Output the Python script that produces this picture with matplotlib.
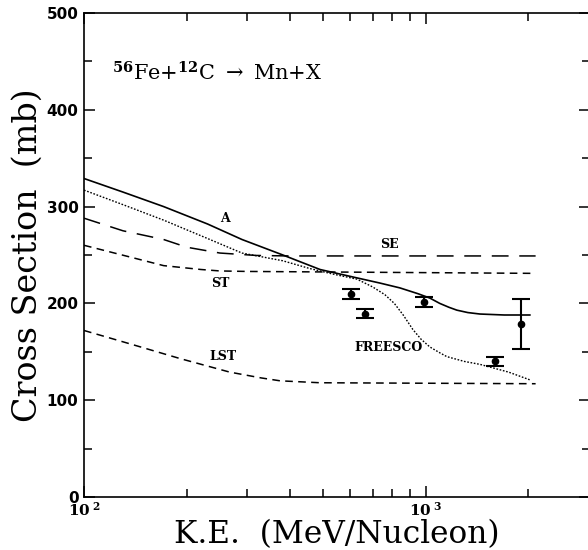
import matplotlib
matplotlib.use('Agg')
import matplotlib.pyplot as plt
from matplotlib.ticker import FixedLocator, FixedFormatter, NullFormatter, MultipleLocator, LogLocator

plt.rcParams['mathtext.fontset'] = 'dejavuserif'

# curve A (solid)
a_e = [100, 130, 171, 230, 290, 382, 491, 600, 735, 841, 950, 1029, 1100, 1170, 1235, 1330, 1443, 1700, 2020]
a_s = [329, 315, 300, 282, 266, 250, 235, 228, 221, 216, 210, 205.5, 200, 196, 193, 190.5, 189, 188, 188]

# FREESCO (dotted)
fr_e = [100, 130, 171, 230, 290, 382, 458, 540, 630, 700, 760, 810, 860, 918, 970, 1029, 1100, 1154, 1300, 1443, 1750, 2020]
fr_s = [317, 302, 286, 267, 252, 244, 236, 230, 225, 217, 209, 200, 188, 173, 163, 155, 149, 145, 140, 137, 129, 121]

# SE (long dash)
se_e = [100, 130, 171, 200, 250, 320, 400, 2100]
se_s = [288, 275, 266, 258, 252, 249.5, 249, 249]

# ST (short dash)
st_e = [100, 136, 171, 220, 250, 300, 2100]
st_s = [260, 248, 239, 235, 233.5, 233, 231]

# LST (short dash)
lst_e = [100, 140, 191, 267, 330, 375, 491, 2100]
lst_s = [172, 157, 143, 129, 123, 120, 118, 117]

# measured points
pt_e = [604, 664, 990, 1600, 1900]
pt_s = [209.5, 189.5, 201.5, 140, 179]
pt_err = [5, 5, 5, 5, 26]

fig = plt.figure(figsize=(5.88, 5.5), dpi=100)
ax = fig.add_axes([0.1429, 0.0964, 0.8605, 0.88])

ax.plot(a_e, a_s, color='black', lw=1.2)
ax.plot(fr_e, fr_s, color='black', lw=1.0, linestyle=(0, (1.2, 1.2)))
ax.plot(se_e, se_s, color='black', lw=1.1, linestyle=(0, (11, 7)))
ax.plot(st_e, st_s, color='black', lw=1.1, linestyle=(0, (5, 3.5)))
ax.plot(lst_e, lst_s, color='black', lw=1.1, linestyle=(0, (5, 3.5)))
ax.errorbar(pt_e, pt_s, yerr=pt_err, fmt='o', color='black', ms=4.5,
            capsize=6.5, capthick=1.5, elinewidth=1.5)

lab_font = dict(family='DejaVu Serif', weight='bold', size=9, ha='center', va='center')
ax.text(258, 288, 'A', **lab_font)
ax.text(786, 261, 'SE', **lab_font)
ax.text(250, 221, 'ST', **lab_font)
ax.text(255, 145, 'LST', **lab_font)
ax.text(781, 154, 'FREESCO', **lab_font)

ax.text(0.055, 0.876, r'$^{\mathbf{56}}$Fe+$^{\mathbf{12}}$C $\rightarrow$ Mn+X',
        transform=ax.transAxes, family='DejaVu Serif', size=15, va='center')

ax.set_xscale('log')
ax.set_xlim(100, 3030)
ax.set_ylim(0, 500)

ax.xaxis.set_major_locator(FixedLocator([100, 1000]))
ax.xaxis.set_major_formatter(FixedFormatter([r'$\mathbf{10^{\ 2}}$', r'$\mathbf{10^{\ 3}}$']))
ax.xaxis.set_minor_locator(LogLocator(base=10, subs=range(2, 10)))
ax.xaxis.set_minor_formatter(NullFormatter())
ax.yaxis.set_major_locator(MultipleLocator(100))
ax.yaxis.set_minor_locator(MultipleLocator(50))

ax.tick_params(which='both', direction='in', top=True, right=True, width=1.1)
ax.tick_params(which='major', length=8)
ax.tick_params(which='minor', length=6)
ax.tick_params(axis='y', pad=4)
ax.tick_params(axis='x', pad=3)
for lab in ax.get_yticklabels() + ax.get_xticklabels():
    lab.set_fontweight('bold')
    lab.set_fontsize(11)
    lab.set_family('DejaVu Sans')

for s in ax.spines.values():
    s.set_linewidth(1.2)

ax.set_xlabel('K.E.  (MeV/Nucleon)', family='DejaVu Serif', size=22.5, labelpad=0)
ax.set_ylabel('Cross Section  (mb)', family='DejaVu Serif', size=24, labelpad=2)

fig.savefig('out.png', dpi=100)
